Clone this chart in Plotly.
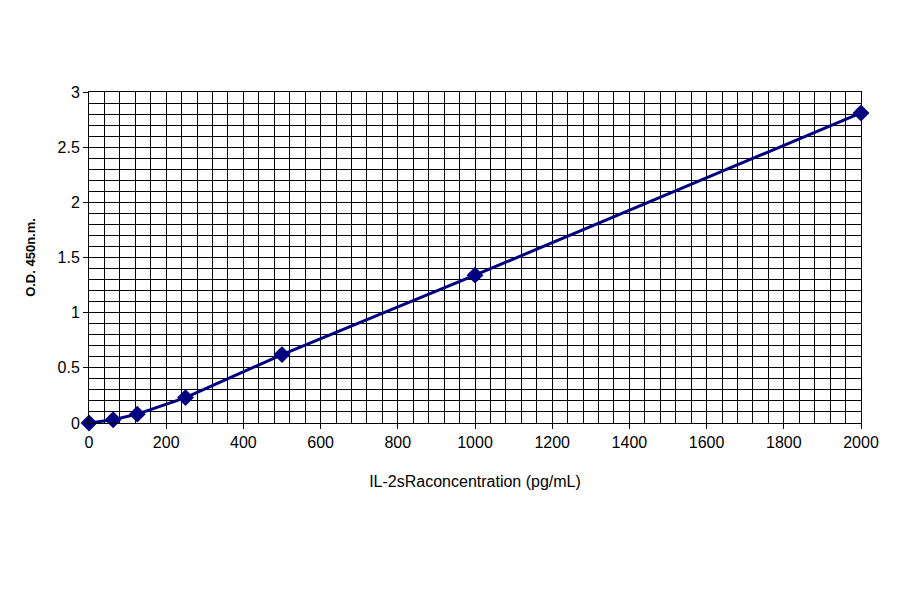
import plotly.graph_objects as go

conc = [0, 62.5, 125, 250, 500, 1000, 2000]
od = [0.0, 0.03, 0.08, 0.23, 0.62, 1.34, 2.81]

fig = go.Figure(go.Scatter(x=conc, y=od, mode="lines+markers", cliponaxis=False,
    line=dict(color="#000080", width=3),
    marker=dict(symbol="diamond", size=13, color="#000080")))
fig.update_layout(width=900, height=594, plot_bgcolor="white", paper_bgcolor="white",
    margin=dict(l=81, r=47, t=84, b=179), showlegend=False,
    font=dict(family="Liberation Sans, Arial", size=16, color="black"))
fig.update_xaxes(range=[0, 2000], tick0=0, dtick=200, minor=dict(dtick=40, showgrid=True, gridcolor="black", gridwidth=1),
    showgrid=True, gridcolor="black", gridwidth=1, showline=True, linecolor="black", mirror=True,
    ticks="outside", ticklen=5, tickcolor="black", zeroline=False,
    title=dict(text="IL-2sRaconcentration (pg/mL)", standoff=25, font=dict(size=16)))
fig.update_yaxes(range=[0, 3], tick0=0, dtick=0.5, minor=dict(dtick=0.1, showgrid=True, gridcolor="black", gridwidth=1),
    showgrid=True, gridcolor="black", gridwidth=1, showline=True, linecolor="black", mirror=True,
    ticks="outside", ticklen=5, tickcolor="black", zeroline=False,
    title=dict(text="<b>O.D. 450n.m.</b>", standoff=18, font=dict(size=13)))
fig.write_html("out.html")
